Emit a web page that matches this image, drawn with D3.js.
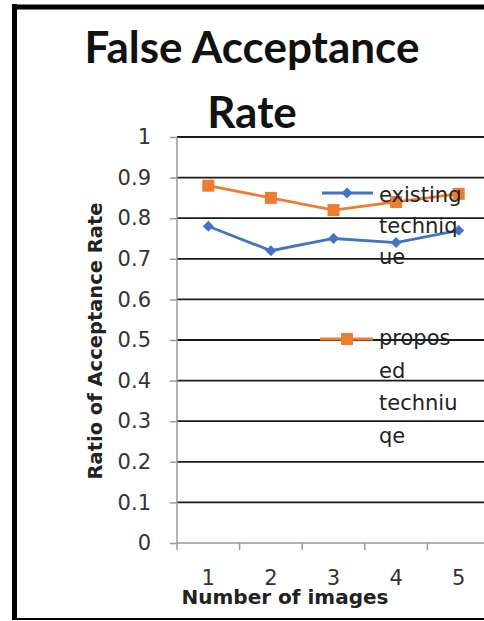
<!DOCTYPE html>
<html><head><meta charset="utf-8">
<script src="https://cdn.jsdelivr.net/npm/d3@7"></script>
<style>html,body{margin:0;padding:0;background:#fff;overflow:hidden}</style>
</head><body>
<script>
const categories = ["1","2","3","4","5"];
const existingValues = [0.78, 0.72, 0.75, 0.74, 0.77];
const proposedValues = [0.88, 0.85, 0.82, 0.84, 0.86];
const yTicks = [0, 0.1, 0.2, 0.3, 0.4, 0.5, 0.6, 0.7, 0.8, 0.9, 1];
const yTickLabels = ["0","0.1","0.2","0.3","0.4","0.5","0.6","0.7","0.8","0.9","1"];
const titleLines = ["False Acceptance", "Rate"];
const xTitle = "Number of images";
const yTitle = "Ratio of Acceptance Rate";
const legendExisting = ["existing", "techniq", "ue"];
const legendProposed = ["propos", "ed", "techniu", "qe"];

const W = 484, H = 621;
const svg = d3.select("body").append("svg").attr("width", W).attr("height", H);
svg.append("rect").attr("width", W).attr("height", H).attr("fill", "#fff");

// outer frame
svg.append("line").attr("x1", 14.5).attr("x2", 14.5).attr("y1", 4).attr("y2", 620).attr("stroke", "#000").attr("stroke-width", 5);
svg.append("line").attr("x1", 12).attr("x2", W).attr("y1", 7).attr("y2", 7).attr("stroke", "#000").attr("stroke-width", 5);
svg.append("line").attr("x1", 12).attr("x2", W).attr("y1", 619).attr("y2", 619).attr("stroke", "#000").attr("stroke-width", 2);

const x = d3.scaleBand().domain(categories).range([177, 490]).padding(0);
const y = d3.scaleLinear().domain([0, 1]).range([543, 137]);

// gridlines
svg.append("g").selectAll("line").data(yTicks.filter(d => d > 0)).join("line")
  .attr("x1", 177).attr("x2", W).attr("y1", d => y(d)).attr("y2", d => y(d))
  .attr("stroke", "#1a1a1a").attr("stroke-width", 1.8);

// y axis
const yAxis = d3.axisLeft(y).tickValues(yTicks).tickSize(7).tickPadding(19)
  .tickFormat((d, i) => yTickLabels[i]);
const gy = svg.append("g").attr("transform", "translate(177,0)").call(yAxis);
gy.select(".domain").attr("stroke", "#9a9a9a").attr("stroke-width", 1.5).attr("d", "M0,137V543");
gy.selectAll(".tick line").attr("stroke", "#9a9a9a").attr("stroke-width", 1.5);
gy.selectAll(".tick text").attr("font-family", "DejaVu Sans").attr("font-size", 21).attr("fill", "#333");

// x axis
const xAxis = d3.axisBottom(x).tickSize(0).tickPadding(27);
const gx = svg.append("g").attr("transform", "translate(0,543)").call(xAxis);
gx.select(".domain").attr("stroke", "#9a9a9a").attr("stroke-width", 1.5).attr("d", "M177,0H" + W);
gx.selectAll(".tick text").attr("font-family", "DejaVu Sans").attr("font-size", 21).attr("fill", "#333");
// boundary tick marks
svg.append("g").selectAll("line").data(categories.concat(["end"])).join("line")
  .attr("x1", (d, i) => 177 + i * x.bandwidth()).attr("x2", (d, i) => 177 + i * x.bandwidth())
  .attr("y1", 543).attr("y2", 550).attr("stroke", "#9a9a9a").attr("stroke-width", 1.5);

const cx = d => x(d) + x.bandwidth() / 2;
const line = d3.line().x((d, i) => cx(categories[i])).y(d => y(d));

const blue = "#4472C4", orange = "#ED7D31";
svg.append("path").datum(existingValues).attr("d", line).attr("fill", "none").attr("stroke", blue).attr("stroke-width", 2.8);
svg.append("path").datum(proposedValues).attr("d", line).attr("fill", "none").attr("stroke", orange).attr("stroke-width", 2.8);

const diamond = d3.symbol().type(d3.symbolSquare).size(60);
svg.append("g").selectAll("path").data(existingValues).join("path")
  .attr("d", diamond())
  .attr("transform", (d, i) => `translate(${cx(categories[i])},${y(d)}) rotate(45)`)
  .attr("fill", blue);
svg.append("g").selectAll("rect").data(proposedValues).join("rect")
  .attr("x", (d, i) => cx(categories[i]) - 6).attr("y", d => y(d) - 6)
  .attr("width", 12).attr("height", 12).attr("fill", orange);

// legend
const lg = svg.append("g");
lg.append("line").attr("x1", 322).attr("x2", 373).attr("y1", 193).attr("y2", 193).attr("stroke", blue).attr("stroke-width", 2.8);
lg.append("path").attr("d", diamond()).attr("transform", "translate(347,193) rotate(45)").attr("fill", blue);
lg.append("g").selectAll("text").data(legendExisting).join("text")
  .attr("x", 379).attr("y", (d, i) => 202 + i * 31).text(d => d)
  .attr("font-family", "DejaVu Sans").attr("font-size", 21).attr("fill", "#222");
lg.append("line").attr("x1", 320).attr("x2", 373).attr("y1", 339).attr("y2", 339).attr("stroke", orange).attr("stroke-width", 2.8);
lg.append("rect").attr("x", 341).attr("y", 333).attr("width", 12).attr("height", 12).attr("fill", orange);
lg.append("g").selectAll("text").data(legendProposed).join("text")
  .attr("x", 379).attr("y", (d, i) => 345 + i * 32.5).text(d => d)
  .attr("font-family", "DejaVu Sans").attr("font-size", 21).attr("fill", "#222");

// titles
svg.append("g").selectAll("text").data(titleLines).join("text")
  .attr("x", 252).attr("y", (d, i) => 63 + i * 65).attr("text-anchor", "middle")
  .attr("font-family", "Lato").attr("font-weight", "bold").attr("font-size", 44).attr("fill", "#111")
  .text(d => d);
svg.append("text").attr("x", 285).attr("y", 604).attr("text-anchor", "middle")
  .attr("font-family", "DejaVu Sans").attr("font-weight", "bold").attr("font-size", 20).attr("fill", "#222")
  .text(xTitle);
svg.append("text").attr("transform", "translate(102,341) rotate(-90)").attr("text-anchor", "middle")
  .attr("font-family", "DejaVu Sans").attr("font-weight", "bold").attr("font-size", 19.5).attr("fill", "#222")
  .text(yTitle);
</script>
</body></html>
